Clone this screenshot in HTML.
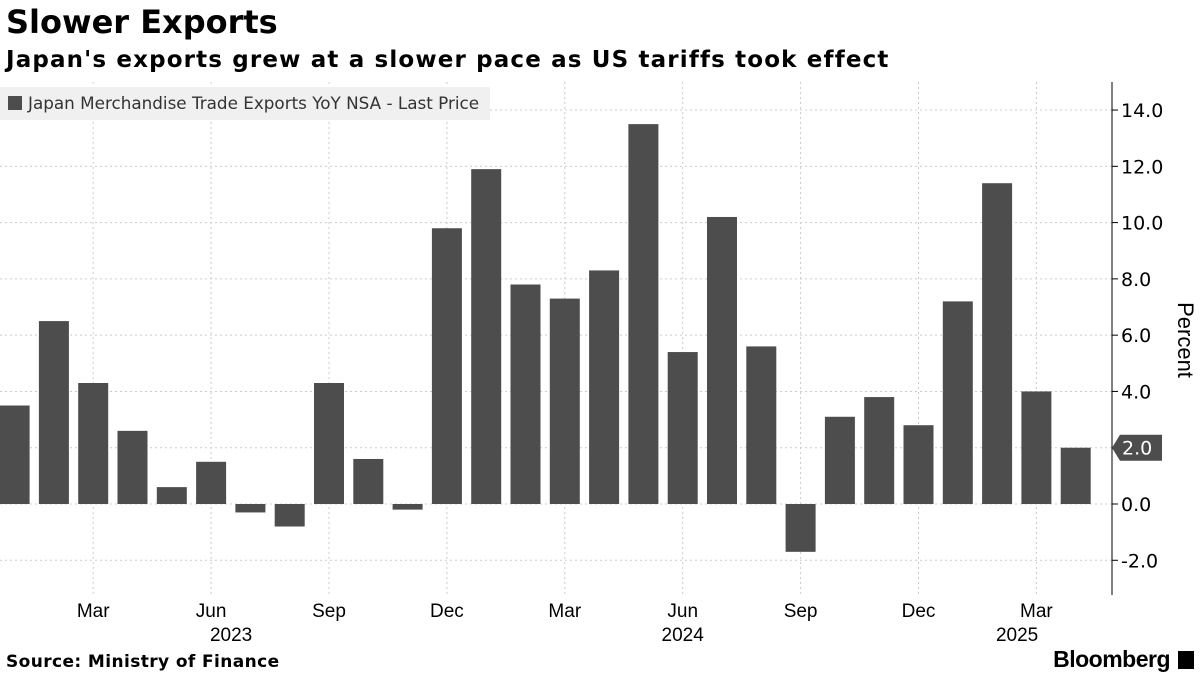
<!DOCTYPE html>
<html><head><meta charset="utf-8"><style>
body{margin:0;width:1200px;height:675px;background:#fff;font-family:"Liberation Sans",sans-serif;overflow:hidden;position:relative}
.t{position:absolute;left:6px;top:3px;font-size:32px;font-weight:bold;color:#000;font-family:"DejaVu Sans",sans-serif}
.s{position:absolute;left:6px;top:47px;font-size:23px;font-weight:bold;color:#000;font-family:"DejaVu Sans",sans-serif;letter-spacing:1.15px}
.src{position:absolute;left:6px;top:652px;font-size:17px;font-weight:bold;font-family:"DejaVu Sans",sans-serif;letter-spacing:0.4px}
.bb{position:absolute;right:30px;top:646px;font-size:23px;font-weight:bold;letter-spacing:-0.5px}
</style></head><body>
<div class="t">Slower Exports</div>
<div class="s">Japan's exports grew at a slower pace as US tariffs took effect</div>
<svg id="c" width="1200" height="675" style="position:absolute;left:0;top:0"></svg>
<div class="src">Source: Ministry of Finance</div>
<div class="bb">Bloomberg</div>
<div style="position:absolute;right:6px;top:651px;width:16px;height:18px;background:#000"></div>
<script>
const values=[3.5,6.5,4.3,2.6,0.6,1.5,-0.3,-0.8,4.3,1.6,-0.2,9.8,11.9,7.8,7.3,8.3,13.5,5.4,10.2,5.6,-1.7,3.1,3.8,2.8,7.2,11.4,4.0,2.0];
const yTicks=[-2,0,2,4,6,8,10,12,14];
const monthLabels=[[2,"Mar"],[5,"Jun"],[8,"Sep"],[11,"Dec"],[14,"Mar"],[17,"Jun"],[20,"Sep"],[23,"Dec"],[26,"Mar"]];
const yearLabels=[[5,"2023"],[17,"2024"],[25,"2025"]];
const NS="http://www.w3.org/2000/svg",svg=document.getElementById('c');
const x=i=>14.6+i*39.3, y=v=>504-v*28.14;
function el(t,a,txt){const e=document.createElementNS(NS,t);for(const k in a)e.setAttribute(k,a[k]);if(txt!=null)e.textContent=txt;svg.appendChild(e);return e;}
yTicks.forEach(v=>{const g=el('line',{x1:0,x2:1112,y1:y(v),y2:y(v),stroke:'#ccc','stroke-dasharray':'2,3'});

const tk=el('line',{x1:1112,x2:1118,y1:y(v),y2:y(v),stroke:'#000'});

const t=el('text',{x:1121,y:y(v)+7,'font-size':19,fill:'#000','font-family':'DejaVu Sans, sans-serif'},v.toFixed(1));
});
monthLabels.forEach(([i,m])=>{const g=el('line',{x1:x(i),x2:x(i),y1:82,y2:595,stroke:'#ccc','stroke-dasharray':'2,3'});

const t=el('text',{x:x(i),y:617,'font-size':19,'text-anchor':'middle'},m);
});
yearLabels.forEach(([i,m])=>{const t=el('text',{x:i==17?x(i):x(i)+20,y:641,'font-size':19,'text-anchor':'middle'},m);
});
values.forEach((v,i)=>{const r=el('rect',{x:x(i)-15,width:30,y:Math.min(y(v),y(0)),height:Math.abs(y(v)-y(0)),fill:'#4d4d4d'});
});
const ax=el('line',{x1:1112,x2:1112,y1:82,y2:595,stroke:'#000'});

const last=values[values.length-1];
const lb=el('path',{d:`M1112 ${y(last)} L1120 ${y(last)-13} L1162 ${y(last)-13} L1162 ${y(last)+13} L1120 ${y(last)+13} Z`,fill:'#4d4d4d'});

const lt=el('text',{x:1122,y:y(last)+7,'font-size':19,fill:'#fff','font-family':'DejaVu Sans, sans-serif'},last.toFixed(1));

const yt=el('text',{x:0,y:0,'font-size':22,transform:'translate(1178,340) rotate(90)','text-anchor':'middle'},'Percent');

const lg=el('rect',{x:0,y:87,width:490,height:33,fill:'#f0f0f0'});

const ls=el('rect',{x:8,y:96,width:14,height:14,fill:'#4d4d4d'});

const lt2=el('text',{x:28,y:109,'font-size':16.8,fill:'#333','font-family':'DejaVu Sans, sans-serif'},'Japan Merchandise Trade Exports YoY NSA - Last Price');

</script>
</body></html>
